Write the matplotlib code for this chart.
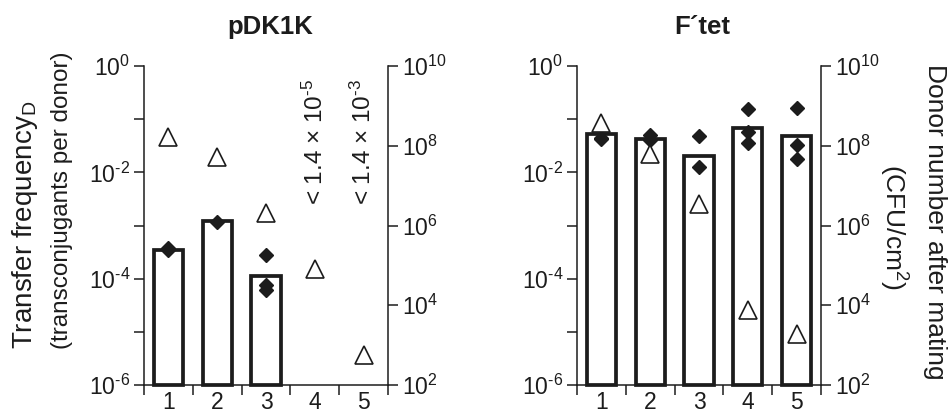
import numpy as np
import matplotlib
matplotlib.use("Agg")
import matplotlib.pyplot as plt
from matplotlib.ticker import FixedLocator, FuncFormatter, NullFormatter

plt.rcParams['font.family'] = ['Liberation Sans', 'DejaVu Sans']
plt.rcParams['mathtext.fontset'] = 'custom'
plt.rcParams['mathtext.rm'] = 'Liberation Sans'
plt.rcParams['mathtext.it'] = 'Liberation Sans:italic'
plt.rcParams['mathtext.bf'] = 'Liberation Sans:bold'

categories = [1, 2, 3, 4, 5]

# pDK1K: mean transfer frequency (bars), replicate frequencies (diamonds),
# donor numbers after mating (triangles, right axis)
pdk_bar = [3.5e-4, 1.2e-3, 1.1e-4, None, None]
pdk_rep_x = [1, 1, 2, 3, 3, 3]
pdk_rep = [3.8e-4, 3.5e-4, 1.17e-3, 2.8e-4, 7.6e-5, 6.2e-5]
pdk_donor = [1.7e8, 5.2e7, 2.1e6, 8.0e4, 5.7e2]
pdk_limits = {4: "< 1.4 × 10$^{\\text{-5}}$", 5: "< 1.4 × 10$^{\\text{-3}}$"}

# F'tet
ftet_bar = [0.053, 0.042, 0.020, 0.069, 0.048]
ftet_rep_x = [1, 1, 2, 2, 3, 3, 4, 4, 4, 5, 5, 5]
ftet_rep = [0.042, 0.045, 0.050, 0.040, 0.048, 0.0126, 0.155, 0.057, 0.036, 0.163, 0.033, 0.018]
ftet_donor = [3.7e8, 6.2e7, 3.5e6, 7.6e3, 1.9e3]

left_ticks = [1e0, 1e-2, 1e-4, 1e-6]
left_minor = [1e-1, 1e-3, 1e-5]
right_ticks = [1e10, 1e8, 1e6, 1e4, 1e2]

INK = '#1c1c1c'
FS = 16.5

fig = plt.figure(figsize=(9.52, 4.17), dpi=100)
ax_positions = [(144, 388), (577, 821)]
top_px, bot_px = 66, 385
W, H = 952, 417


def power_label(v, pos):
    e = int(round(np.log10(v)))
    return "10$^{\\text{%d}}$" % e


def draw_panel(x0, x1, bars, rep_x, rep, donor, limits):
    ax = fig.add_axes([x0 / W, 1 - bot_px / H, (x1 - x0) / W, (bot_px - top_px) / H])
    ax.set_yscale('log')
    ax.set_ylim(1e-6, 1e0)
    ax.set_xlim(0.5, 5.5)
    for c, v in zip(categories, bars):
        if v is None:
            continue
        ax.bar(c, v - 1e-6, bottom=1e-6, width=0.6, facecolor='white',
               edgecolor=INK, linewidth=2.7, clip_on=False, zorder=2)
    ax.plot(rep_x, rep, linestyle='none', marker='D', markersize=6.8,
            color=INK, zorder=3, clip_on=False)
    for c, txt in limits.items():
        ax.text(c, 10 ** -1.43, txt, rotation=90, ha='center', va='center',
                fontsize=17.5, color=INK)

    ax.yaxis.set_major_locator(FixedLocator(left_ticks))
    ax.yaxis.set_minor_locator(FixedLocator(left_minor))
    ax.yaxis.set_major_formatter(FuncFormatter(power_label))
    ax.yaxis.set_minor_formatter(NullFormatter())
    ax.xaxis.set_major_locator(FixedLocator(categories))
    ax.xaxis.set_minor_locator(FixedLocator(np.arange(0.5, 6.0, 1.0)))
    ax.tick_params(axis='x', which='major', length=0, labelsize=FS, pad=4, colors=INK)
    ax.tick_params(axis='x', which='minor', length=7, width=1.1, color=INK)
    ax.tick_params(axis='y', which='both', length=7, width=1.1, color=INK,
                   labelsize=FS, labelcolor=INK, pad=3)
    for s in ('top', 'right'):
        ax.spines[s].set_visible(False)
    for s in ('left', 'bottom'):
        ax.spines[s].set_linewidth(1.1)
        ax.spines[s].set_color(INK)

    ax2 = ax.twinx()
    ax2.set_yscale('log')
    ax2.set_ylim(1e2, 1e10)
    ax2.yaxis.set_major_locator(FixedLocator(right_ticks))
    ax2.yaxis.set_minor_locator(FixedLocator([]))
    ax2.yaxis.set_major_formatter(FuncFormatter(power_label))
    ax2.tick_params(axis='y', which='both', length=7, width=1.1, color=INK,
                    labelsize=FS, labelcolor=INK, pad=3)
    for s in ('top', 'left', 'bottom'):
        ax2.spines[s].set_visible(False)
    ax2.spines['right'].set_linewidth(1.1)
    ax2.spines['right'].set_color(INK)
    ax2.plot(categories, donor, linestyle='none', marker='^', markersize=13,
             markerfacecolor='white', markeredgecolor=INK, markeredgewidth=1.2,
             zorder=4, clip_on=False)
    return ax, ax2


axL, axL2 = draw_panel(*ax_positions[0], pdk_bar, pdk_rep_x, pdk_rep,
                       pdk_donor, pdk_limits)
axR, axR2 = draw_panel(*ax_positions[1], ftet_bar, ftet_rep_x, ftet_rep,
                       ftet_donor, {})

# panel titles
fig.text(270 / W, 1 - 27 / H, 'pDK1K', ha='center', va='center',
         fontsize=18.5, fontweight='bold', color=INK)
fig.text(702 / W, 1 - 27 / H, 'F\u00b4tet', ha='center', va='center',
         fontsize=18.5, fontweight='bold', color=INK)

# axis labels
fig.text(25 / W, 1 - 225 / H, 'Transfer frequency$_\\mathregular{D}$', rotation=90,
         ha='center', va='center', fontsize=20, color=INK)
fig.text(62 / W, 1 - 200 / H, '(transconjugants per donor)', rotation=90,
         ha='center', va='center', fontsize=17.5, color=INK)
fig.text(935 / W, 1 - 222 / H, 'Donor number after mating', rotation=-90,
         ha='center', va='center', fontsize=19, color=INK)
fig.text(893 / W, 1 - 227 / H, '(CFU/cm$^\\mathregular{2}$)', rotation=-90,
         ha='center', va='center', fontsize=19, color=INK)

fig.savefig('out.png', dpi=100)
